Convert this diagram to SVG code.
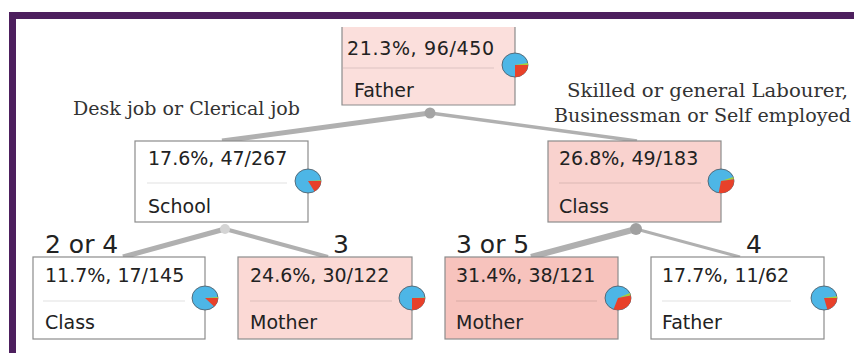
<svg xmlns="http://www.w3.org/2000/svg" width="854" height="353" viewBox="0 0 854 353">
<defs>
<style>
.box{stroke:#8c8c8c;stroke-width:1.2}
.sep{stroke:#000;stroke-opacity:0.12;stroke-width:1.2}
.t{font-family:"DejaVu Sans",Verdana,sans-serif;font-size:19px;fill:#222}
.lab{font-family:"DejaVu Sans",Verdana,sans-serif;font-size:25px;fill:#222}
.cond{font-family:"DejaVu Serif","Liberation Serif",serif;font-size:19px;fill:#333}
.pie{fill:#4db6e6;stroke:#4a5560;stroke-width:0.8}
.red{fill:#e8412a}
.grn{fill:#a6cf3a}
.edge{stroke:#b0b0b0;fill:none;stroke-linecap:butt}
</style>
</defs>
<rect width="854" height="353" fill="#fff"/>
<g id="frame" fill="#4d1f5e">
<rect x="9" y="12" width="845" height="7"/>
<rect x="9" y="12" width="7" height="341"/>
</g>
<g id="connectors">
<line class="edge" x1="430" y1="113" x2="222" y2="141" stroke-width="5"/>
<line class="edge" x1="430" y1="113" x2="637" y2="141" stroke-width="3.5"/>
<line class="edge" x1="225" y1="229" x2="123" y2="257" stroke-width="5"/>
<line class="edge" x1="225" y1="229" x2="328" y2="257" stroke-width="4"/>
<line class="edge" x1="636" y1="229" x2="531" y2="257" stroke-width="6"/>
<line class="edge" x1="636" y1="229" x2="740" y2="257" stroke-width="3"/>
<circle cx="430" cy="113" r="5.5" fill="#a4a4a4"/>
<circle cx="225" cy="229" r="5" fill="#d4d4d4"/>
<circle cx="636" cy="229" r="6" fill="#a0a0a0"/>
</g>
<g id="conditions">
<text class="cond" x="73" y="115" textLength="227" lengthAdjust="spacingAndGlyphs">Desk job or Clerical job</text>
<text class="cond" x="567" y="97" textLength="281" lengthAdjust="spacingAndGlyphs">Skilled or general Labourer,</text>
<text class="cond" x="554" y="122" textLength="297" lengthAdjust="spacingAndGlyphs">Businessman or Self employed</text>
<text class="lab" x="45" y="253">2 or 4</text>
<text class="lab" x="333" y="253">3</text>
<text class="lab" x="456" y="253">3 or 5</text>
<text class="lab" x="746" y="253">4</text>
</g>
<g id="node-root">
<rect x="342" y="27" width="173" height="78" fill="#fbdfdc"/>
<path class="box" d="M342,27 V105 H515 V27" fill="none"/>
<text class="t" x="347" y="55" textLength="147" lengthAdjust="spacing">21.3%, 96/450</text>
<line class="sep" x1="343" y1="68" x2="494" y2="68"/>
<text class="t" x="354" y="97">Father</text>
<ellipse class="pie" cx="515" cy="65" rx="13" ry="12"/>
<path class="grn" d="M515,65 L527.8,62.9 A13,12 0 0 1 528,65 Z"/>
<path class="red" d="M515,65 L528,65 A13,12 0 0 1 515,77 Z"/>
</g>
<g id="node-school">
<rect class="box" x="135" y="141" width="173" height="81" fill="#fff"/>
<text class="t" x="148" y="165">17.6%, 47/267</text>
<line class="sep" x1="147" y1="183" x2="287" y2="183"/>
<text class="t" x="148" y="213">School</text>
<ellipse class="pie" cx="308" cy="181" rx="13" ry="12"/>
<path class="grn" d="M308,181 L320.97,180.16 A13,12 0 0 1 321,181 Z"/>
<path class="red" d="M308,181 L321,181 A13,12 0 0 1 314.5,191.4 Z"/>
</g>
<g id="node-class">
<rect class="box" x="548" y="141" width="173" height="81" fill="#f9d2ce"/>
<text class="t" x="559" y="165">26.8%, 49/183</text>
<line class="sep" x1="559" y1="183" x2="701" y2="183"/>
<text class="t" x="559" y="213">Class</text>
<ellipse class="pie" cx="721" cy="181" rx="13" ry="12"/>
<path class="grn" d="M721,181 L733.22,176.9 A13,12 0 0 1 733.87,179.33 Z"/>
<path class="red" d="M721,181 L733.87,179.33 A13,12 0 0 1 718.74,192.82 Z"/>
</g>
<g id="node-class-24">
<rect class="box" x="33" y="257" width="172" height="82" fill="#fff"/>
<text class="t" x="45" y="282">11.7%, 17/145</text>
<line class="sep" x1="43" y1="301" x2="185" y2="301"/>
<text class="t" x="45" y="329">Class</text>
<ellipse class="pie" cx="205" cy="298" rx="13" ry="12"/>
<path class="grn" d="M205,298 L217.95,296.96 A13,12 0 0 1 218,298 Z"/>
<path class="red" d="M205,298 L218,298 A13,12 0 0 1 214.19,306.49 Z"/>
</g>
<g id="node-mother-3">
<rect class="box" x="238" y="257" width="174" height="82" fill="#fbd9d5"/>
<text class="t" x="250" y="282">24.6%, 30/122</text>
<line class="sep" x1="250" y1="301" x2="392" y2="301"/>
<text class="t" x="250" y="329">Mother</text>
<ellipse class="pie" cx="412" cy="298" rx="13" ry="12"/>
<path class="grn" d="M412,298 L424.98,297.38 A13,12 0 0 1 425,298 Z"/>
<path class="red" d="M412,298 L425,298 A13,12 0 0 1 412,310 Z"/>
</g>
<g id="node-mother-35">
<rect class="box" x="445" y="257" width="173" height="82" fill="#f7c3bd"/>
<text class="t" x="456" y="282">31.4%, 38/121</text>
<line class="sep" x1="456" y1="301" x2="597" y2="301"/>
<text class="t" x="456" y="329">Mother</text>
<ellipse class="pie" cx="618" cy="298" rx="13" ry="12"/>
<path class="grn" d="M618,298 L629.78,292.92 A13,12 0 0 1 630.71,295.5 Z"/>
<path class="red" d="M618,298 L630.71,295.5 A13,12 0 0 1 613.55,309.28 Z"/>
</g>
<g id="node-father-4">
<rect class="box" x="651" y="257" width="173" height="82" fill="#fff"/>
<text class="t" x="662" y="282">17.7%, 11/62</text>
<line class="sep" x1="662" y1="301" x2="791" y2="301"/>
<text class="t" x="662" y="329">Father</text>
<ellipse class="pie" cx="824" cy="298" rx="13" ry="12"/>
<path class="grn" d="M824,298 L836.87,296.33 A13,12 0 0 1 837,298 Z"/>
<path class="red" d="M824,298 L837,298 A13,12 0 0 1 827.37,309.59 Z"/>
</g>
</svg>
